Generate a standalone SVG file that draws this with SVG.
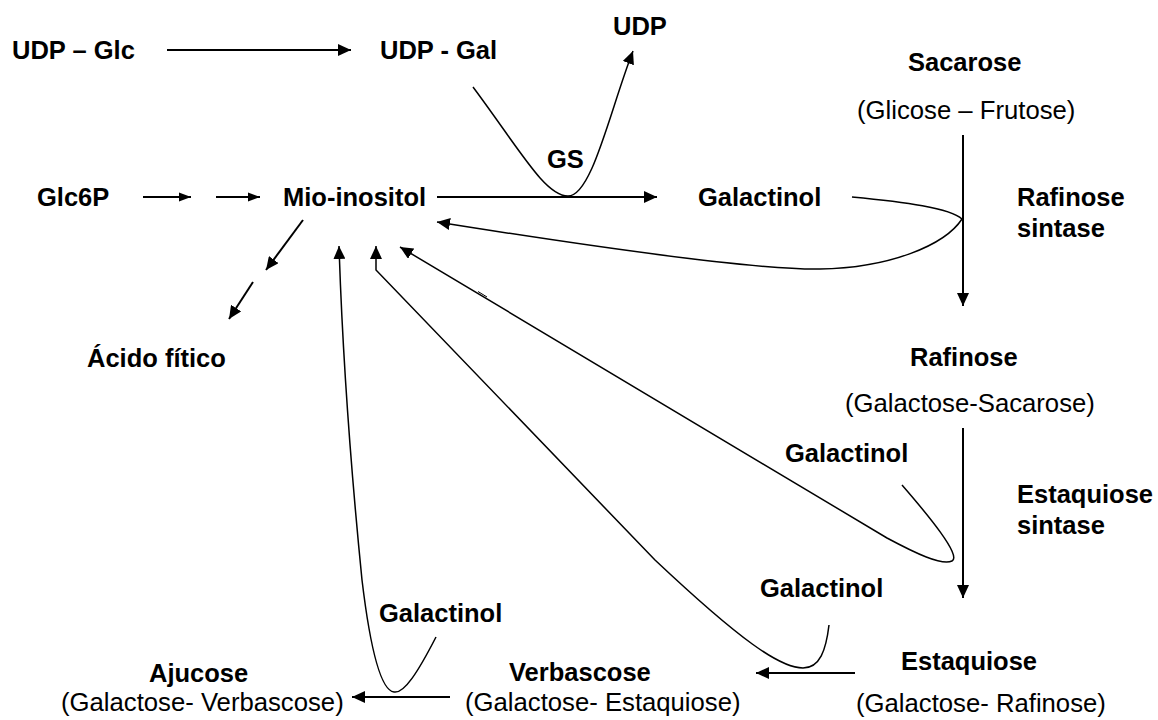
<svg xmlns="http://www.w3.org/2000/svg" width="1158" height="720" viewBox="0 0 1158 720">
<defs>
<marker id="ah" markerUnits="userSpaceOnUse" markerWidth="14" markerHeight="12" refX="13" refY="6" orient="auto"><path d="M0,0 L13,6 L0,12 z" fill="#000"/></marker>
<marker id="ahs" markerUnits="userSpaceOnUse" markerWidth="12" markerHeight="10" refX="12" refY="5" orient="auto"><path d="M0,0.5 L12,5 L0,9.5 z" fill="#000"/></marker>
</defs>
<style>
.b{font-family:"Liberation Sans",Arial,sans-serif;font-weight:bold;font-size:25.5px;fill:#000}
.r{font-family:"Liberation Sans",Arial,sans-serif;font-size:25.7px;fill:#000}
.a{stroke:#000;stroke-width:2;fill:none;marker-end:url(#ah)}
.s{stroke:#000;stroke-width:2;fill:none;marker-end:url(#ahs)}
.c{stroke:#000;stroke-width:1.5;fill:none;marker-end:url(#ah)}
.g{stroke:#000;stroke-width:1;fill:none}
</style>
<rect width="1158" height="720" fill="#fff"/>
<g id="udp-glc"><text class="b" x="12" y="59">UDP – Glc</text></g>
<g id="udp-gal"><text class="b" x="380" y="59">UDP - Gal</text></g>
<g id="udp"><text class="b" x="613" y="35">UDP</text></g>
<g id="gs"><text class="b" x="547" y="168">GS</text></g>
<g id="sacarose"><text class="b" x="908" y="71">Sacarose</text><text class="r" x="857" y="119">(Glicose – Frutose)</text></g>
<g id="glc6p"><text class="b" x="37" y="206">Glc6P</text></g>
<g id="mio-inositol"><text class="b" x="283" y="206">Mio-inositol</text></g>
<g id="galactinol-1"><text class="b" x="698" y="206">Galactinol</text></g>
<g id="rafinose-sintase"><text class="b" x="1017" y="206">Rafinose</text><text class="b" x="1017" y="237">sintase</text></g>
<g id="acido-fitico"><text class="b" x="87" y="367">Ácido fítico</text></g>
<g id="rafinose"><text class="b" x="910" y="366">Rafinose</text><text class="r" x="845" y="412">(Galactose-Sacarose)</text></g>
<g id="galactinol-2"><text class="b" x="785" y="462">Galactinol</text></g>
<g id="estaquiose-sintase"><text class="b" x="1017" y="503">Estaquiose</text><text class="b" x="1017" y="534">sintase</text></g>
<g id="galactinol-3"><text class="b" x="760" y="597">Galactinol</text></g>
<g id="estaquiose"><text class="b" x="901" y="670">Estaquiose</text><text class="r" x="856" y="712">(Galactose- Rafinose)</text></g>
<g id="verbascose"><text class="b" x="509" y="681">Verbascose</text><text class="r" x="465" y="711">(Galactose- Estaquiose)</text></g>
<g id="ajucose"><text class="b" x="149" y="682">Ajucose</text><text class="r" x="61" y="711">(Galactose- Verbascose)</text></g>
<g id="galactinol-4"><text class="b" x="379" y="622">Galactinol</text></g>
<g id="connectors">
<path class="a" d="M167,50 L351,50"/>
<path class="s" d="M143,197 L191,197"/>
<path class="s" d="M216,197 L260,197"/>
<path class="a" d="M437,197 L657,197"/>
<path class="c" d="M473,87 C520,150 545,196 568,196 C592,196 610,110 633,51"/>
<path class="a" d="M303,220 L266,270"/>
<path class="a" d="M253,282 L229,319"/>
<path class="a" d="M963,135 L963,306"/>
<path class="a" d="M963,428 L963,598"/>
<path class="c" d="M852,197 C905,202 950,208 962,219 C945,245 890,268 820,269 C760,270 600,248 437,222"/>
<path class="c" d="M902,485 C928,515 962,556 952,561 C942,566 915,553 887,538 L400,247"/>
<path class="g" d="M478,291.5 L487,297"/>
<path class="c" d="M829,625 C826,650 820,668 803,668 C780,668 740,640 655,560 L376,270 L376,246"/>
<path class="c" d="M436,637 C418,672 404,694 394,692 C378,690 368,630 362,580 C352,480 343,370 339,246"/>
<path class="a" d="M855,673 L756,673"/>
<path class="a" d="M450,697 L352,697"/>
</g>
</svg>
